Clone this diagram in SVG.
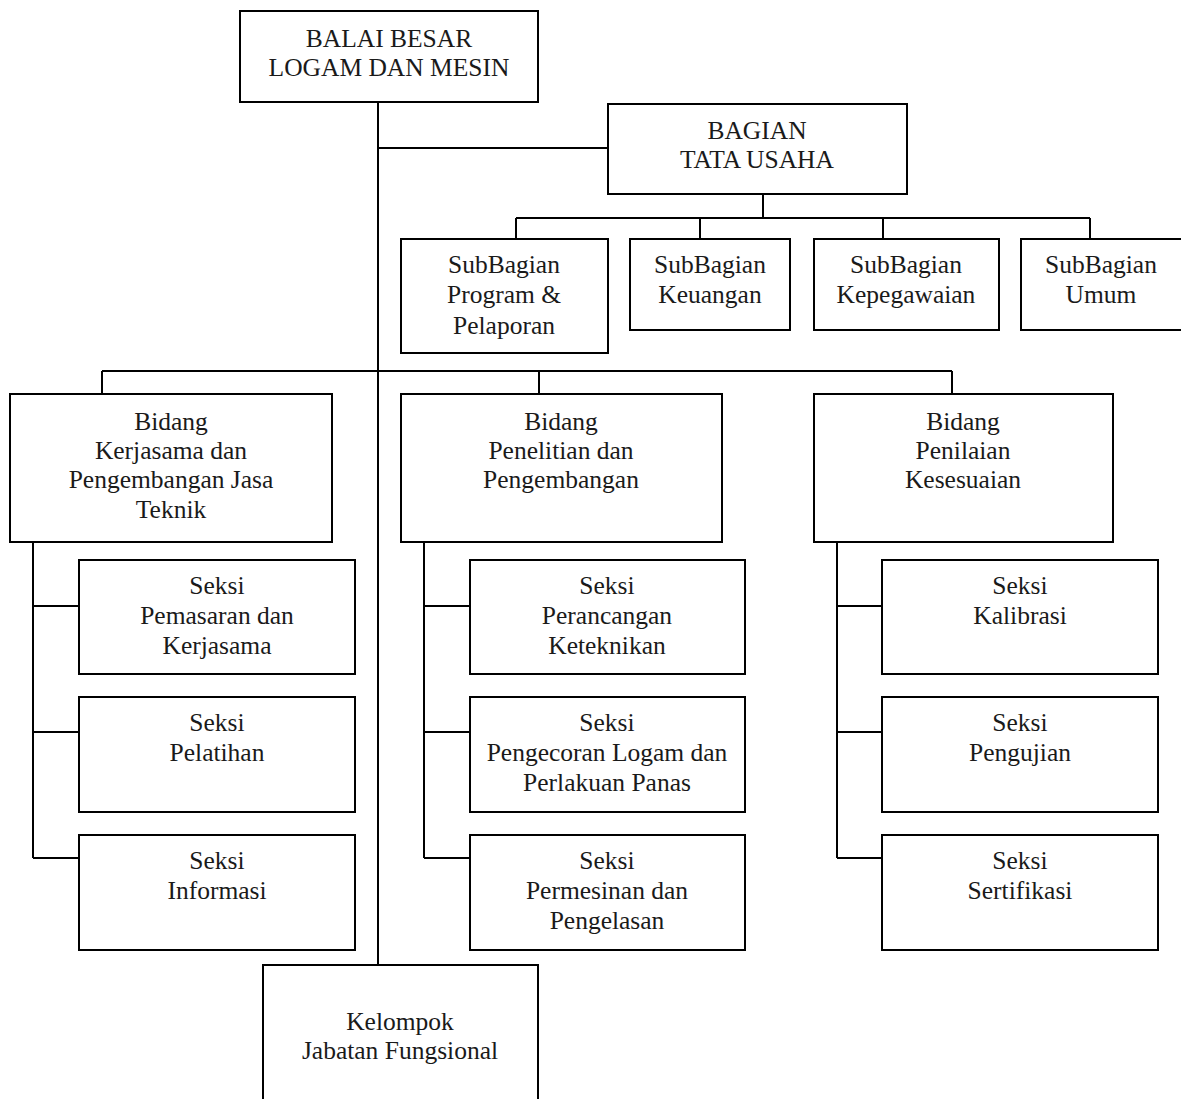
<svg xmlns="http://www.w3.org/2000/svg" width="1181" height="1099" viewBox="0 0 1181 1099">
<style>
.box{fill:#fff;stroke:#000;stroke-width:2}
.ln{fill:none;stroke:#000;stroke-width:2}
text{font-family:"Liberation Serif","Times New Roman",serif;font-size:25.5px;fill:#1a1a1a;text-anchor:middle}
</style>
<rect width="1181" height="1099" fill="#fff"/>
<g id="connectors" class="ln">
<path d="M378 103V965"/>
<path d="M378 148H608"/>
<path d="M763 195V218M516 218H1090M516 218V239M700 218V239M883 218V239M1090 218V239"/>
<path d="M102 371H952M102 371V394M539 371V394M952 371V394"/>
<path d="M33 542V858M33 606H79M33 732H79M33 858H79"/>
<path d="M424 542V858M424 606H470M424 732H470M424 858H470"/>
<path d="M837 542V858M837 606H882M837 732H882M837 858H882"/>
</g>
<g font-family="Liberation Serif, serif">
<g id="balai"><rect class="box" x="240" y="11" width="298" height="91"/><text x="389" y="47">BALAI BESAR</text><text x="389" y="76">LOGAM DAN MESIN</text></g>
<g id="bagian"><rect class="box" x="608" y="104" width="299" height="90"/><text x="757" y="139">BAGIAN</text><text x="757" y="168">TATA USAHA</text></g>
<g id="sub-program"><rect class="box" x="401" y="239" width="207" height="114"/><text x="504" y="273">SubBagian</text><text x="504" y="303">Program &amp;</text><text x="504" y="334">Pelaporan</text></g>
<g id="sub-keuangan"><rect class="box" x="630" y="239" width="160" height="91"/><text x="710" y="273">SubBagian</text><text x="710" y="303">Keuangan</text></g>
<g id="sub-kepegawaian"><rect class="box" x="814" y="239" width="185" height="91"/><text x="906" y="273">SubBagian</text><text x="906" y="303">Kepegawaian</text></g>
<g id="sub-umum"><rect class="box" x="1021" y="239" width="170" height="91"/><text x="1101" y="273">SubBagian</text><text x="1101" y="303">Umum</text></g>
<g id="bidang-kerjasama"><rect class="box" x="10" y="394" width="322" height="148"/><text x="171" y="430">Bidang</text><text x="171" y="459">Kerjasama dan</text><text x="171" y="488">Pengembangan Jasa</text><text x="171" y="518">Teknik</text></g>
<g id="bidang-penelitian"><rect class="box" x="401" y="394" width="321" height="148"/><text x="561" y="430">Bidang</text><text x="561" y="459">Penelitian dan</text><text x="561" y="488">Pengembangan</text></g>
<g id="bidang-penilaian"><rect class="box" x="814" y="394" width="299" height="148"/><text x="963" y="430">Bidang</text><text x="963" y="459">Penilaian</text><text x="963" y="488">Kesesuaian</text></g>
<g id="seksi-pemasaran"><rect class="box" x="79" y="560" width="276" height="114"/><text x="217" y="594">Seksi</text><text x="217" y="624">Pemasaran dan</text><text x="217" y="654">Kerjasama</text></g>
<g id="seksi-pelatihan"><rect class="box" x="79" y="697" width="276" height="115"/><text x="217" y="731">Seksi</text><text x="217" y="761">Pelatihan</text></g>
<g id="seksi-informasi"><rect class="box" x="79" y="835" width="276" height="115"/><text x="217" y="869">Seksi</text><text x="217" y="899">Informasi</text></g>
<g id="seksi-perancangan"><rect class="box" x="470" y="560" width="275" height="114"/><text x="607" y="594">Seksi</text><text x="607" y="624">Perancangan</text><text x="607" y="654">Keteknikan</text></g>
<g id="seksi-pengecoran"><rect class="box" x="470" y="697" width="275" height="115"/><text x="607" y="731">Seksi</text><text x="607" y="761">Pengecoran Logam dan</text><text x="607" y="791">Perlakuan Panas</text></g>
<g id="seksi-permesinan"><rect class="box" x="470" y="835" width="275" height="115"/><text x="607" y="869">Seksi</text><text x="607" y="899">Permesinan dan</text><text x="607" y="929">Pengelasan</text></g>
<g id="seksi-kalibrasi"><rect class="box" x="882" y="560" width="276" height="114"/><text x="1020" y="594">Seksi</text><text x="1020" y="624">Kalibrasi</text></g>
<g id="seksi-pengujian"><rect class="box" x="882" y="697" width="276" height="115"/><text x="1020" y="731">Seksi</text><text x="1020" y="761">Pengujian</text></g>
<g id="seksi-sertifikasi"><rect class="box" x="882" y="835" width="276" height="115"/><text x="1020" y="869">Seksi</text><text x="1020" y="899">Sertifikasi</text></g>
<g id="kelompok"><rect class="box" x="263" y="965" width="275" height="150"/><text x="400" y="1030">Kelompok</text><text x="400" y="1059">Jabatan Fungsional</text></g>
</g>
</svg>
